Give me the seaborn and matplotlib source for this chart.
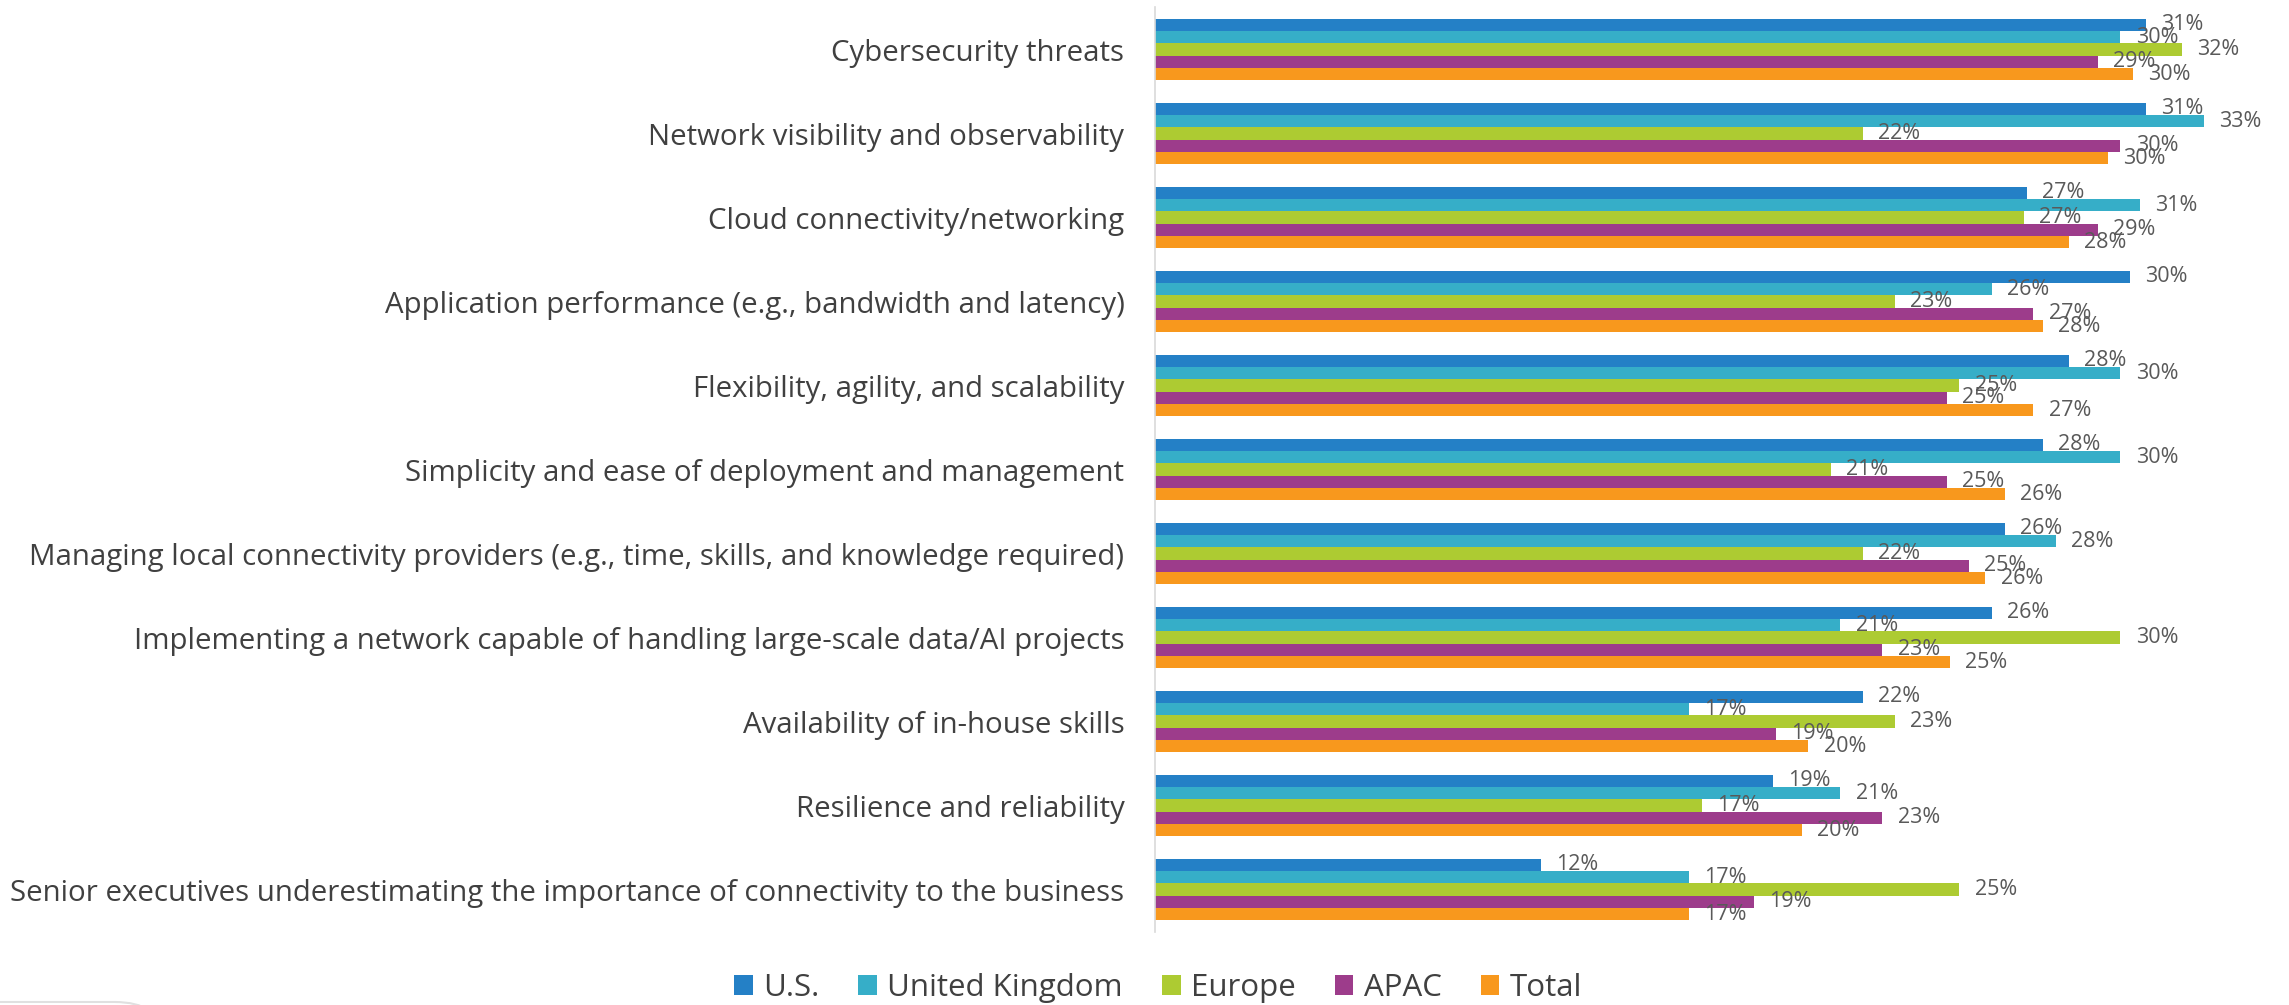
import pandas as pd
import matplotlib.pyplot as plt
import matplotlib.transforms as mtransforms
import seaborn as sns
from matplotlib.patches import FancyBboxPatch

# data (% of respondents)
categories = [
    "Cybersecurity threats",
    "Network visibility and observability",
    "Cloud connectivity/networking",
    "Application performance (e.g., bandwidth and latency)",
    "Flexibility, agility, and scalability",
    "Simplicity and ease of deployment and management",
    "Managing local connectivity providers (e.g., time, skills, and knowledge required)",
    "Implementing a network capable of handling large-scale data/AI projects",
    "Availability of in-house skills",
    "Resilience and reliability",
    "Senior executives underestimating the importance of connectivity to the business",
]
regions = ["U.S.", "United Kingdom", "Europe", "APAC", "Total"]
us = [30.8, 30.8, 27.1, 30.3, 28.4, 27.6, 26.4, 26.0, 22.0, 19.2, 12.0]
uk = [30.0, 32.6, 30.6, 26.0, 30.0, 30.0, 28.0, 21.3, 16.6, 21.3, 16.6]
europe = [31.9, 22.0, 27.0, 23.0, 25.0, 21.0, 22.0, 30.0, 23.0, 17.0, 25.0]
apac = [29.3, 30.0, 29.3, 27.3, 24.6, 24.6, 25.3, 22.6, 19.3, 22.6, 18.6]
total = [30.4, 29.6, 28.4, 27.6, 27.3, 26.4, 25.8, 24.7, 20.3, 20.1, 16.6]
colors = ["#2480C6", "#36AEC8", "#ADCB32", "#9D3C8B", "#F8981D"]

rows = []
for reg, vals in zip(regions, [us, uk, europe, apac, total]):
    for cat, v in zip(categories, vals):
        rows.append({"category": cat, "region": reg, "value": v})
df = pd.DataFrame(rows)

sns.set_style("white")
plt.rcParams["font.family"] = ["Open Sans", "DejaVu Sans"]

fig = plt.figure(figsize=(22.89, 10.05), dpi=100)
ax = fig.add_axes([1155 / 2289, 1 - 931.5 / 1005, 1 - 1155 / 2289, (931.5 - 7.5) / 1005])

sns.barplot(data=df, y="category", x="value", hue="region", order=categories,
            hue_order=regions, palette=colors, orient="h", width=0.73,
            linewidth=0, saturation=1, ax=ax)

# value labels, nudged a little below the bar centre like the original
shift = mtransforms.offset_copy(ax.transData, fig=fig, x=0, y=-2, units="dots")
for cont in ax.containers:
    for t in ax.bar_label(cont, fmt="{:.0f}%", padding=11, fontsize=15.5, color="#595959"):
        t.set_transform(shift)

ax.set_xlim(0, 35.24)
ax.set_xlabel("")
ax.set_ylabel("")
ax.set_xticks([])
ax.tick_params(axis="y", length=0, pad=22, labelsize=21.2, labelcolor="#404040")
for side in ["top", "right", "bottom"]:
    ax.spines[side].set_visible(False)
ax.spines["left"].set_color("#D9D9D9")
ax.spines["left"].set_linewidth(1.2)

# legend at the bottom
handles, labels = ax.get_legend_handles_labels()
ax.legend_.remove()
fig.legend(handles, labels, loc="center", bbox_to_anchor=(1158 / 2289, 1 - 988 / 1005),
           ncol=5, frameon=False, fontsize=22.5, labelcolor="#404040",
           handlelength=0.6, handleheight=0.6, handletextpad=0.33,
           columnspacing=1.25)

# faint rounded box edge in the bottom-left corner
fig.patches.append(FancyBboxPatch((-0.05, -0.05), 0.12, 0.053,
                                  boxstyle="round,pad=0,rounding_size=0.02",
                                  transform=fig.transFigure, facecolor="none",
                                  edgecolor="#E0E0E0", linewidth=1.5))

fig.savefig("out.png", dpi=100)
